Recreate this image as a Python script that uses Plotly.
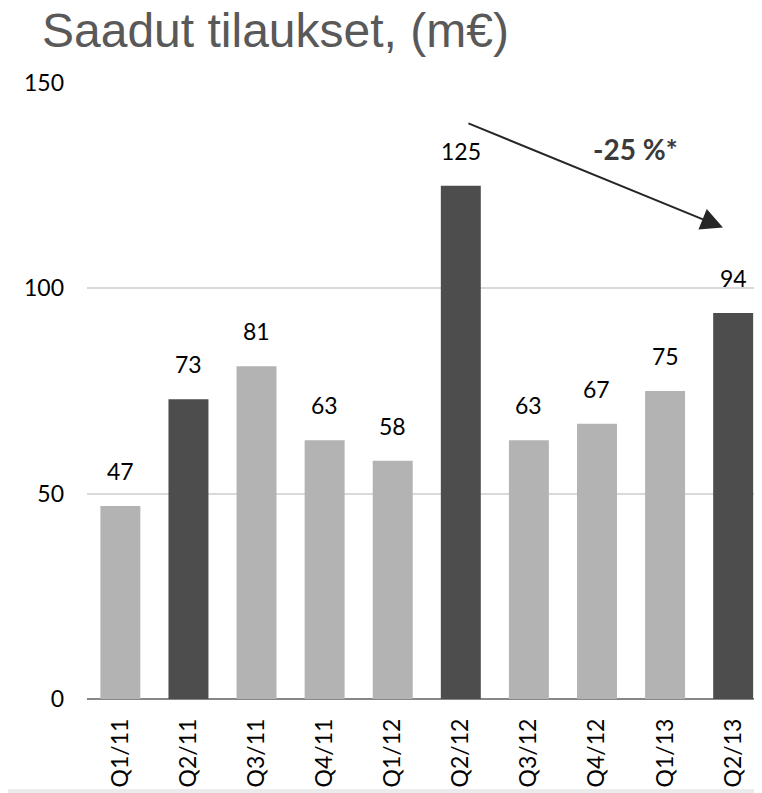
import plotly.graph_objects as go

# Orders received per quarter (m€)
quarters = ['Q1/11', 'Q2/11', 'Q3/11', 'Q4/11', 'Q1/12',
            'Q2/12', 'Q3/12', 'Q4/12', 'Q1/13', 'Q2/13']
orders = [47, 73, 81, 63, 58, 125, 63, 67, 75, 94]
highlight = ['Q2/11', 'Q2/12', 'Q2/13']
y_ticks = [0, 50, 100, 150]

light = '#b3b3b3'
dark = '#4d4d4d'
bar_colors = [dark if q in highlight else light for q in quarters]
idx = list(range(len(quarters)))

fig = go.Figure()
fig.add_trace(go.Bar(
    x=idx,
    y=orders,
    marker=dict(color=bar_colors, line=dict(width=0)),
    hoverinfo='skip',
))

# value labels above the bars
for i, v in zip(idx, orders):
    fig.add_annotation(
        x=i, y=v, text=str(v), showarrow=False,
        yanchor='bottom', yshift=19,
        font=dict(family='Lato', size=23, color='#000000'),
    )

# arrow from Q2/12 down towards Q2/13
fig.add_annotation(
    x=8.85, y=114.8, ax=5.09, ay=140.3,
    xref='x', yref='y', axref='x', ayref='y',
    text='', showarrow=True,
    arrowhead=2, arrowsize=2.2, arrowwidth=2, arrowcolor='#262626',
)
fig.add_annotation(
    x=7.57, y=134, text='<b>-25 %*</b>', showarrow=False,
    font=dict(family='Lato', size=28, color='#3a3a3a'),
)

# thin grey band at the very bottom of the picture
fig.add_shape(
    type='rect', xref='paper', yref='paper',
    x0=-0.2, x1=1.1, y0=-94 / 616, y1=-90 / 616,
    fillcolor='#ebebeb', line=dict(width=0), layer='above',
)

# the page adds an 8px body margin, so the figure is laid out 8px up/left
fig.update_layout(
    width=762,
    height=793,
    margin=dict(l=79, r=13, t=75, b=102, autoexpand=False),
    plot_bgcolor='white',
    paper_bgcolor='white',
    showlegend=False,
    bargap=0.413,
    title=dict(
        text='Saadut tilaukset, (m€)',
        x=34 / 762, xref='container', xanchor='left',
        y=1 - 5 / 793, yref='container', yanchor='top',
        font=dict(family='Liberation Sans', size=48, color='#595959'),
    ),
)
fig.update_xaxes(
    range=[-0.49, 9.35],
    tickmode='array',
    tickvals=idx,
    ticktext=quarters,
    tickangle=-90,
    ticks='',
    automargin=False,
    ticklabelstandoff=14,
    tickfont=dict(family='Lato', size=23, color='#000000'),
    showgrid=False,
    showline=False,
    zeroline=False,
)
fig.update_yaxes(
    range=[0, 150],
    tickmode='array',
    tickvals=y_ticks,
    showgrid=True,
    gridcolor='#d9d9d9',
    gridwidth=1.5,
    zeroline=True,
    zerolinecolor='#878787',
    zerolinewidth=2,
    showline=False,
    ticks='',
    automargin=False,
    ticklabelstandoff=22,
    tickfont=dict(family='Lato', size=23, color='#000000'),
)

fig.write_html("out.html")
